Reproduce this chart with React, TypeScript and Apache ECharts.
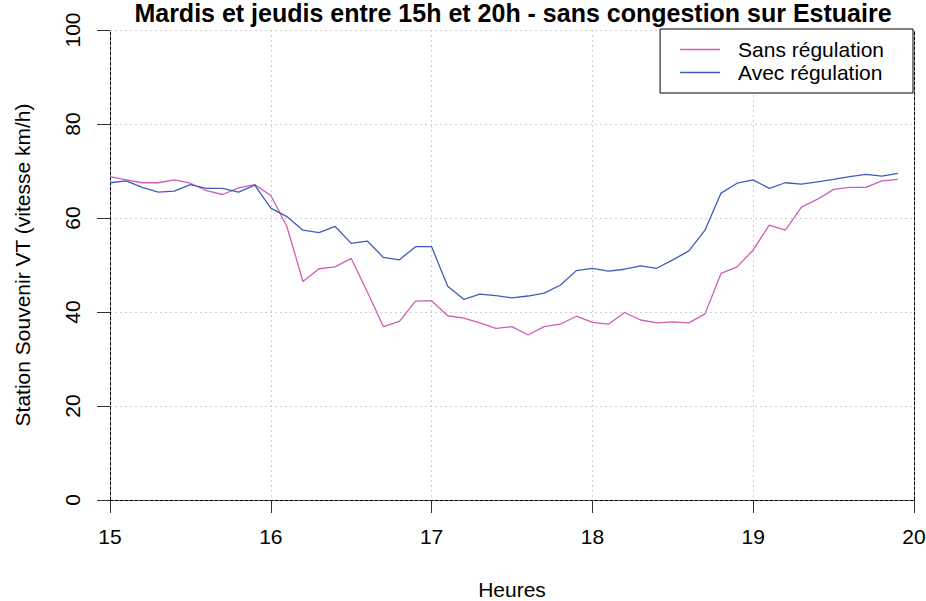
import React, { useEffect, useRef } from "react";
import * as echarts from "echarts";

const titleText = "Mardis et jeudis entre 15h et 20h - sans congestion sur Estuaire";
const xName = "Heures";
const yName = "Station Souvenir VT (vitesse km/h)";
const seriesNames = ["Sans régulation", "Avec régulation"];
const seriesColors = ["#CD5FB6", "#3F5DB8"];

const hours = [
  15.0, 15.1, 15.2, 15.3, 15.4, 15.5, 15.6, 15.7, 15.8, 15.9,
  16.0, 16.1, 16.2, 16.3, 16.4, 16.5, 16.6, 16.7, 16.8, 16.9,
  17.0, 17.1, 17.2, 17.3, 17.4, 17.5, 17.6, 17.7, 17.8, 17.9,
  18.0, 18.1, 18.2, 18.3, 18.4, 18.5, 18.6, 18.7, 18.8, 18.9,
  19.0, 19.1, 19.2, 19.3, 19.4, 19.5, 19.6, 19.7, 19.8, 19.9,
];

const sansRegulation = [
  68.8, 68.1, 67.5, 67.5, 68.1, 67.4, 65.8, 65.0, 66.4, 67.1,
  64.8, 58.2, 46.5, 49.2, 49.6, 51.4, 44.3, 36.9, 38.0, 42.3,
  42.4, 39.2, 38.7, 37.7, 36.5, 36.9, 35.1, 36.9, 37.4, 39.1,
  37.8, 37.4, 39.9, 38.3, 37.7, 37.9, 37.7, 39.6, 48.2, 49.6,
  53.2, 58.5, 57.4, 62.3, 64.0, 66.1, 66.5, 66.5, 67.9, 68.2,
];

const avecRegulation = [
  67.5, 67.9, 66.5, 65.5, 65.7, 67.1, 66.3, 66.3, 65.5, 67.0,
  62.1, 60.3, 57.4, 56.9, 58.2, 54.6, 55.1, 51.6, 51.1, 53.9,
  53.9, 45.5, 42.7, 43.8, 43.5, 43.0, 43.4, 44.0, 45.7, 48.8,
  49.3, 48.7, 49.1, 49.8, 49.3, 51.1, 53.0, 57.4, 65.3, 67.4,
  68.1, 66.3, 67.5, 67.2, 67.7, 68.2, 68.8, 69.3, 68.9, 69.5,
];

const FONT = "Liberation Sans, Arial, sans-serif";
const FS = 21;

export default function App() {
  const ref = useRef<HTMLDivElement>(null);
  useEffect(() => {
    if (!ref.current) return;
    const chart = echarts.init(ref.current, null, { renderer: "svg" });
    const border = { show: true, lineStyle: { color: "#000", width: 1, type: [3, 2] } };
    const grayGrid = { show: true, lineStyle: { color: "#cfcfcf", width: 1, type: [2, 3] } };
    chart.setOption({
      animation: false,
      backgroundColor: "#fff",
      textStyle: { fontFamily: FONT },
      title: {
        text: titleText,
        left: 513,
        textAlign: "center",
        top: 0,
        padding: 0,
        textStyle: { fontFamily: FONT, fontWeight: "bold", fontSize: 25, lineHeight: 26, color: "#000" },
      },
      legend: {
        data: seriesNames.map((n) => ({ name: n, icon: "rect" })),
        orient: "vertical",
        right: 13,
        top: 29,
        padding: [10, 29, 10, 20],
        itemGap: 2,
        itemWidth: 40,
        itemHeight: 1.5,
        borderColor: "#000",
        borderWidth: 1,
        borderRadius: 0,
        backgroundColor: "#fff",
        textStyle: { fontFamily: FONT, fontSize: FS, lineHeight: 21, color: "#000", padding: [0, 0, 0, 13] },
      },
      grid: { left: 110, right: 12, top: 30, bottom: 101, outerBoundsMode: "none", containLabel: false },
      xAxis: [
        {
          type: "value",
          min: 15,
          max: 20,
          interval: 1,
          name: xName,
          nameLocation: "middle",
          nameGap: 79,
          nameTextStyle: { fontFamily: FONT, fontSize: FS, lineHeight: 20, color: "#000" },
          axisLine: border,
          axisTick: { show: true, length: 13, lineStyle: { color: "#333" } },
          axisLabel: { margin: 26, fontSize: FS, color: "#000", fontFamily: FONT },
          splitLine: grayGrid,
        },
        {
          type: "value",
          position: "top",
          min: 15,
          max: 20,
          interval: 1,
          axisLine: border,
          axisTick: { show: false },
          axisLabel: { show: false },
          splitLine: { show: false },
        },
      ],
      yAxis: [
        {
          type: "value",
          min: 0,
          max: 100,
          interval: 20,
          name: yName,
          nameLocation: "middle",
          nameGap: 77,
          nameTextStyle: { fontFamily: FONT, fontSize: FS, color: "#000" },
          axisLine: border,
          axisTick: { show: true, length: 13, lineStyle: { color: "#333" } },
          axisLabel: { rotate: 90, margin: 27, fontSize: FS, color: "#000", fontFamily: FONT },
          splitLine: grayGrid,
        },
        {
          type: "value",
          position: "right",
          min: 0,
          max: 100,
          interval: 20,
          axisLine: border,
          axisTick: { show: false },
          axisLabel: { show: false },
          splitLine: { show: false },
        },
      ],
      series: [
        {
          name: seriesNames[0],
          type: "line",
          symbol: "none",
          color: seriesColors[0],
          lineStyle: { width: 1.3, color: seriesColors[0] },
          data: hours.map((h, i) => [h, sansRegulation[i]]),
          z: 3,
        },
        {
          name: seriesNames[1],
          type: "line",
          symbol: "none",
          color: seriesColors[1],
          lineStyle: { width: 1.3, color: seriesColors[1] },
          data: hours.map((h, i) => [h, avecRegulation[i]]),
          z: 3,
        },
      ],
    });
    return () => chart.dispose();
  }, []);
  return <div ref={ref} style={{ width: 926, height: 601, position: "absolute", left: 0, top: 0 }} />;
}
